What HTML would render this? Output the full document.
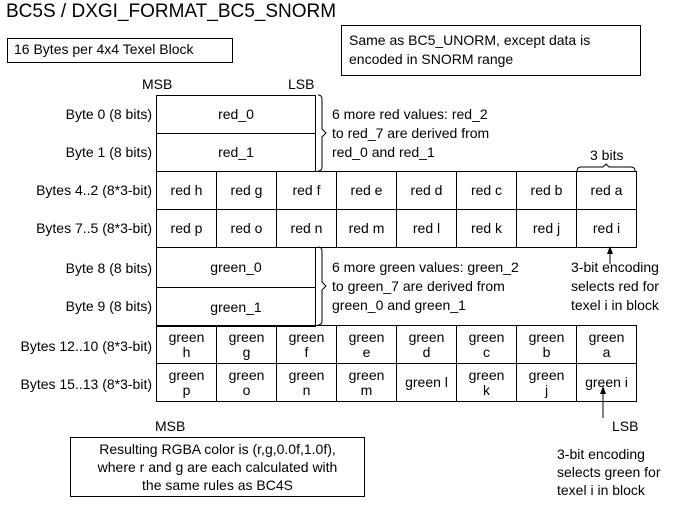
<!DOCTYPE html>
<html><head><style>
body{margin:0;width:679px;height:505px;background:#fff;font-family:"Liberation Sans",Arial,sans-serif;color:#000;position:relative;overflow:hidden}
.a{position:absolute;white-space:nowrap}
.box{position:absolute;border:1px solid #000;box-sizing:border-box}
.lbl{position:absolute;right:527px;font-size:14px;text-align:right;white-space:nowrap}
table{position:absolute;border-collapse:collapse;font-size:14px}
td{border:1px solid #000;text-align:center;padding:0;width:59px;line-height:15px}
</style></head><body>
<div class="a" style="left:6px;top:1px;font-size:19px">BC5S / DXGI_FORMAT_BC5_SNORM</div>
<div class="box" style="left:7px;top:38px;width:226px;height:25px"></div>
<div class="a" style="left:14px;top:41px;font-size:14px">16 Bytes per 4x4 Texel Block</div>
<div class="box" style="left:341px;top:25px;width:300px;height:51px"></div>
<div class="a" style="left:349px;top:31px;font-size:14px;line-height:19px">Same as BC5_UNORM, except data is<br>encoded in SNORM range</div>
<div class="a" style="left:142px;top:76px;font-size:14px">MSB</div>
<div class="a" style="left:288px;top:76px;font-size:14px">LSB</div>

<div class="lbl" style="top:106px">Byte 0 (8 bits)</div>
<div class="lbl" style="top:144px">Byte 1 (8 bits)</div>
<div class="lbl" style="top:182px">Bytes 4..2 (8*3-bit)</div>
<div class="lbl" style="top:220px">Bytes 7..5 (8*3-bit)</div>
<div class="lbl" style="top:260px">Byte 8 (8 bits)</div>
<div class="lbl" style="top:298px">Byte 9 (8 bits)</div>
<div class="lbl" style="top:338px">Bytes 12..10 (8*3-bit)</div>
<div class="lbl" style="top:376px">Bytes 15..13 (8*3-bit)</div>

<table style="left:156px;top:95px"><tr><td style="width:158px;height:37px">red_0</td></tr><tr><td style="height:37px">red_1</td></tr></table>
<table style="left:156px;top:171px">
<tr style="height:38px"><td>red h</td><td>red g</td><td>red f</td><td>red e</td><td>red d</td><td>red c</td><td>red b</td><td>red a</td></tr>
<tr style="height:38px"><td>red p</td><td>red o</td><td>red n</td><td>red m</td><td>red l</td><td>red k</td><td>red j</td><td>red i</td></tr></table>
<table style="left:156px;top:247px"><tr><td style="width:158px;height:39px">green_0</td></tr><tr><td style="height:38px">green_1</td></tr></table>
<table style="left:156px;top:325px">
<tr style="height:38px"><td>green<br>h</td><td>green<br>g</td><td>green<br>f</td><td>green<br>e</td><td>green<br>d</td><td>green<br>c</td><td>green<br>b</td><td>green<br>a</td></tr>
<tr style="height:38px"><td>green<br>p</td><td>green<br>o</td><td>green<br>n</td><td>green<br>m</td><td>green l</td><td>green<br>k</td><td>green<br>j</td><td>green i</td></tr></table>

<svg class="a" style="left:0;top:0" width="679" height="505">
<g fill="none" stroke="#000" stroke-width="1">
<path d="M318 95 q4 0 4 4 v30 l4 4 l-4 4 v30 q0 4 -4 4"/>
<path d="M318 247 q4 0 4 4 v31 l4 4 l-4 4 v31 q0 4 -4 4"/>
<path d="M577 171 q0 -4 4 -4 h22 l3 -3 l3 3 h22 q4 0 4 4"/>
<line x1="610" y1="264" x2="610" y2="249"/>
<line x1="603" y1="418" x2="603" y2="390"/>
</g>
<path d="M610 246 l-3 8 h6z M603 386 l-3 8 h6z" fill="#000"/>
</svg>
<div class="a" style="left:332px;top:105px;font-size:14px;line-height:19px">6 more red values: red_2<br>to red_7 are derived from<br>red_0 and red_1</div>
<div class="a" style="left:590px;top:147px;font-size:14px">3 bits</div>
<div class="a" style="left:332px;top:258px;font-size:14px;line-height:19px">6 more green values: green_2<br>to green_7 are derived from<br>green_0 and green_1</div>
<div class="a" style="left:571px;top:258px;font-size:14px;line-height:19px">3-bit encoding<br>selects red for<br>texel i in block</div>
<div class="a" style="left:155px;top:418px;font-size:14px">MSB</div>
<div class="a" style="left:612px;top:418px;font-size:14px">LSB</div>
<div class="box" style="left:70px;top:437px;width:295px;height:60px"></div>
<div class="a" style="left:70px;top:440px;width:295px;text-align:center;font-size:14px;line-height:18px">Resulting RGBA color is (r,g,0.0f,1.0f),<br>where r and g are each calculated with<br>the same rules as BC4S</div>
<div class="a" style="left:557px;top:445px;font-size:14px;line-height:18px">3-bit encoding<br>selects green for<br>texel i in block</div>
</body></html>
